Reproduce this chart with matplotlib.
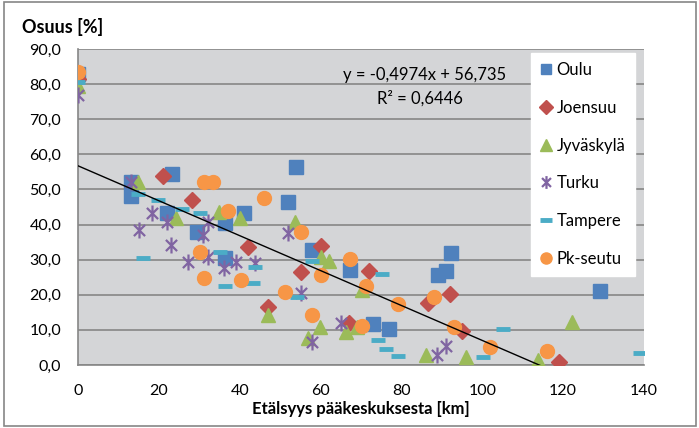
import numpy as np
import matplotlib
matplotlib.use("Agg")
import matplotlib.pyplot as plt
from matplotlib.path import Path
from matplotlib.patches import Rectangle

plt.rcParams['font.family'] = ['Lato', 'DejaVu Sans']

# data (x = km, y = %)
oulu_x = [0, 13, 13, 22, 23.3, 29.5, 36.4, 36.4, 41.1, 52, 54, 57.9, 67.3, 73, 77, 89.1, 91.1, 92.3, 129]
oulu_y = [83, 52, 48, 43.3, 54.4, 37.9, 40.5, 30.5, 43.3, 46.4, 56.4, 32.8, 27, 11.7, 10.2, 25.6, 26.8, 31.9, 21.1]

joensuu_x = [0, 21, 28.2, 42.1, 47, 55.2, 60.1, 67.1, 72, 86.6, 92.1, 95, 119]
joensuu_y = [81.5, 53.8, 47, 33.6, 16.5, 26.5, 33.9, 12, 26.8, 17.7, 20.2, 9.7, 0.8]

jyvaskyla_x = [0, 14.9, 24.3, 34.9, 40.1, 47, 53.7, 56.9, 59.9, 60.1, 62.1, 66.3, 69, 70.3, 86.1, 96, 113.9, 122.3]
jyvaskyla_y = [79.5, 52, 42, 43.6, 41.9, 14.2, 40.7, 7.7, 10.8, 30.8, 29.6, 9.4, 10.8, 21.4, 2.8, 2.3, 1.4, 12.2]

turku_x = [0, 13, 15, 18.3, 22, 23, 27.2, 31, 32.2, 32.2, 36.1, 39.1, 43.8, 52, 55.2, 57.9, 65.1, 88.9, 91.1]
turku_y = [77, 52, 38.5, 43.3, 40.7, 34.2, 29.3, 37, 30.8, 40.7, 27.6, 29.3, 29, 37.6, 20.5, 6.6, 12, 2.8, 5.4]

tampere_x = [0, 14.9, 19.8, 16, 25.7, 30.2, 35.1, 36.4, 43.3, 43.8, 54.2, 57.9, 74.3, 75.2, 76.3, 79.2, 100.2, 105.2, 139]
tampere_y = [80.5, 48.7, 47, 30.5, 44.4, 43.3, 32.2, 22.5, 23.4, 27.9, 19.4, 29.6, 7.1, 25.9, 4.6, 2.6, 2.3, 10.3, 3.4]

pk_x = [0, 31.2, 33.4, 30.2, 31.2, 37.1, 40.3, 46, 51.2, 55.2, 57.9, 60.1, 67.3, 70.3, 71.3, 79.2, 88.1, 93, 102, 116]
pk_y = [83.5, 52, 52.2, 32.2, 24.8, 43.9, 24.2, 47.6, 20.8, 37.9, 14.2, 25.6, 30.2, 11.1, 22.5, 17.4, 19.4, 10.8, 5.1, 4]

# linear trendline shown on the chart
slope = -0.4974
intercept = 56.735
r2 = 0.6446

xticks = [0, 20, 40, 60, 80, 100, 120, 140]
yticks = [0, 10, 20, 30, 40, 50, 60, 70, 80, 90]

# asterisk marker like Excel's
star = Path([(0, -1), (0, 1), (-0.7, -0.7), (0.7, 0.7), (-0.7, 0.7), (0.7, -0.7)],
            [Path.MOVETO, Path.LINETO, Path.MOVETO, Path.LINETO, Path.MOVETO, Path.LINETO])

fig = plt.figure(figsize=(6.99, 4.28), dpi=100)
ax = fig.add_axes([0.1116, 0.1472, 0.8097, 0.7383])
ax.set_facecolor('#D4D5D7')

ax.plot(oulu_x, oulu_y, ls='none', marker='s', ms=9.5, color='#4F81BD', mec='#4F81BD', label='Oulu', zorder=3)
ax.plot(joensuu_x, joensuu_y, ls='none', marker='D', ms=8.5, color='#C0504D', mec='#C0504D', label='Joensuu', zorder=3)
ax.plot(jyvaskyla_x, jyvaskyla_y, ls='none', marker='^', ms=10.5, color='#9BBB59', mec='#9BBB59', label='Jyväskylä', zorder=3)
ax.plot(turku_x, turku_y, ls='none', marker=star, ms=11.5, color='#8064A2', mew=1.6, label='Turku', zorder=3)
ax.plot(tampere_x, tampere_y, ls='none', marker='_', ms=10, color='#4BACC6', mew=3.5, label='Tampere', zorder=3)
ax.plot(pk_x, pk_y, ls='none', marker='o', ms=10, color='#F79646', mec='#F79646', label='Pk-seutu', zorder=3)

all_x = np.concatenate([oulu_x, joensuu_x, jyvaskyla_x, turku_x, tampere_x, pk_x])
tx = np.linspace(0, all_x.max(), 200)
ax.plot(tx, slope * tx + intercept, color='black', lw=1, zorder=4)

ax.text(0.613, 0.918, 'y = -0,4974x + 56,735', transform=ax.transAxes, ha='center', va='center', fontsize=12)
ax.text(0.605, 0.845, 'R² = 0,6446', transform=ax.transAxes, ha='center', va='center', fontsize=12)

ax.set_xlim(0, 140)
ax.set_ylim(0, 90)
ax.set_xticks(xticks)
ax.set_xticklabels([str(v) for v in xticks])
ax.set_yticks(yticks)
ax.set_yticklabels([('%.1f' % v).replace('.', ',') for v in yticks])
ax.tick_params(length=0, labelsize=11.5, colors='black')
ax.tick_params(axis='y', pad=12)
ax.tick_params(axis='x', pad=14)
ax.grid(axis='y', color='#868686', lw=1.2)
ax.set_axisbelow(True)
for s in ['top', 'right']:
    ax.spines[s].set_visible(False)
for s in ['left', 'bottom']:
    ax.spines[s].set_color('#868686')
    ax.spines[s].set_linewidth(1.2)

ax.set_xlabel('Etälsyys pääkeskuksesta [km]', fontsize=12, fontweight='bold', labelpad=2)
fig.text(0.031, 0.937, 'Osuus [%]', fontsize=13, fontweight='bold', ha='left', va='center')

leg = ax.legend(loc='upper left', bbox_to_anchor=(0.8, 0.987), frameon=True, fancybox=False,
                fontsize=12, labelspacing=1.3, handlelength=0.7, handletextpad=0.3,
                borderpad=0.55, borderaxespad=0, markerscale=0.8)
leg.get_frame().set_facecolor('white')
leg.get_frame().set_edgecolor('white')
leg.get_frame().set_alpha(1)

fig.patches.append(Rectangle((0.006, 0.005), 0.99, 0.99, transform=fig.transFigure,
                             fill=False, edgecolor='#868686', lw=1.2))

plt.savefig('out.png', dpi=100)
